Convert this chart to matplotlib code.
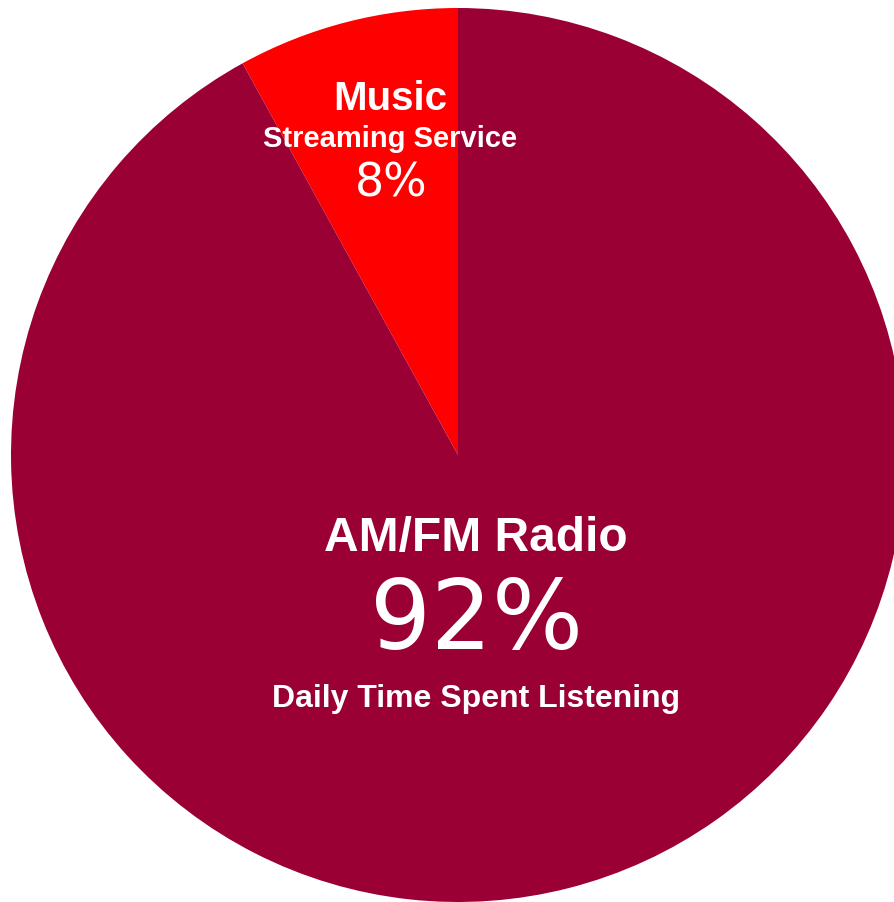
import matplotlib
matplotlib.use('Agg')
import matplotlib.pyplot as plt

labels = ['Music Streaming Service', 'AM/FM Radio']
shares = [8, 92]
colors = ['#fe0000', '#9b0034']

W, H = 894, 902
fig = plt.figure(figsize=(W / 100, H / 100), dpi=100)
ax = fig.add_axes([0, 0, 1, 1])

ax.pie(shares, colors=colors, startangle=90, counterclock=True,
       center=(458, H - 455), radius=447, frame=True,
       wedgeprops=dict(linewidth=0))
ax.set_xlim(0, W)
ax.set_ylim(0, H)
ax.set_aspect('equal')
ax.axis('off')

bold = dict(color='white', fontweight='bold', family='Liberation Sans',
            ha='center', va='center')
num = dict(color='white', family='DejaVu Sans', ha='center', va='center')

ax.text(390, H - 99, 'Music', fontsize=29, **bold)
ax.text(390, H - 139, 'Streaming Service', fontsize=21, **bold)
ax.text(391, H - 184, f'{shares[0]}%', fontsize=33, **num)

ax.text(476, H - 539, 'AM/FM Radio', fontsize=34.5, **bold)
ax.text(476, H - 622, f'{shares[1]}%', fontsize=69, **num)
ax.text(476, H - 699, 'Daily Time Spent Listening', fontsize=23, **bold)

fig.savefig('out.png', dpi=100)
